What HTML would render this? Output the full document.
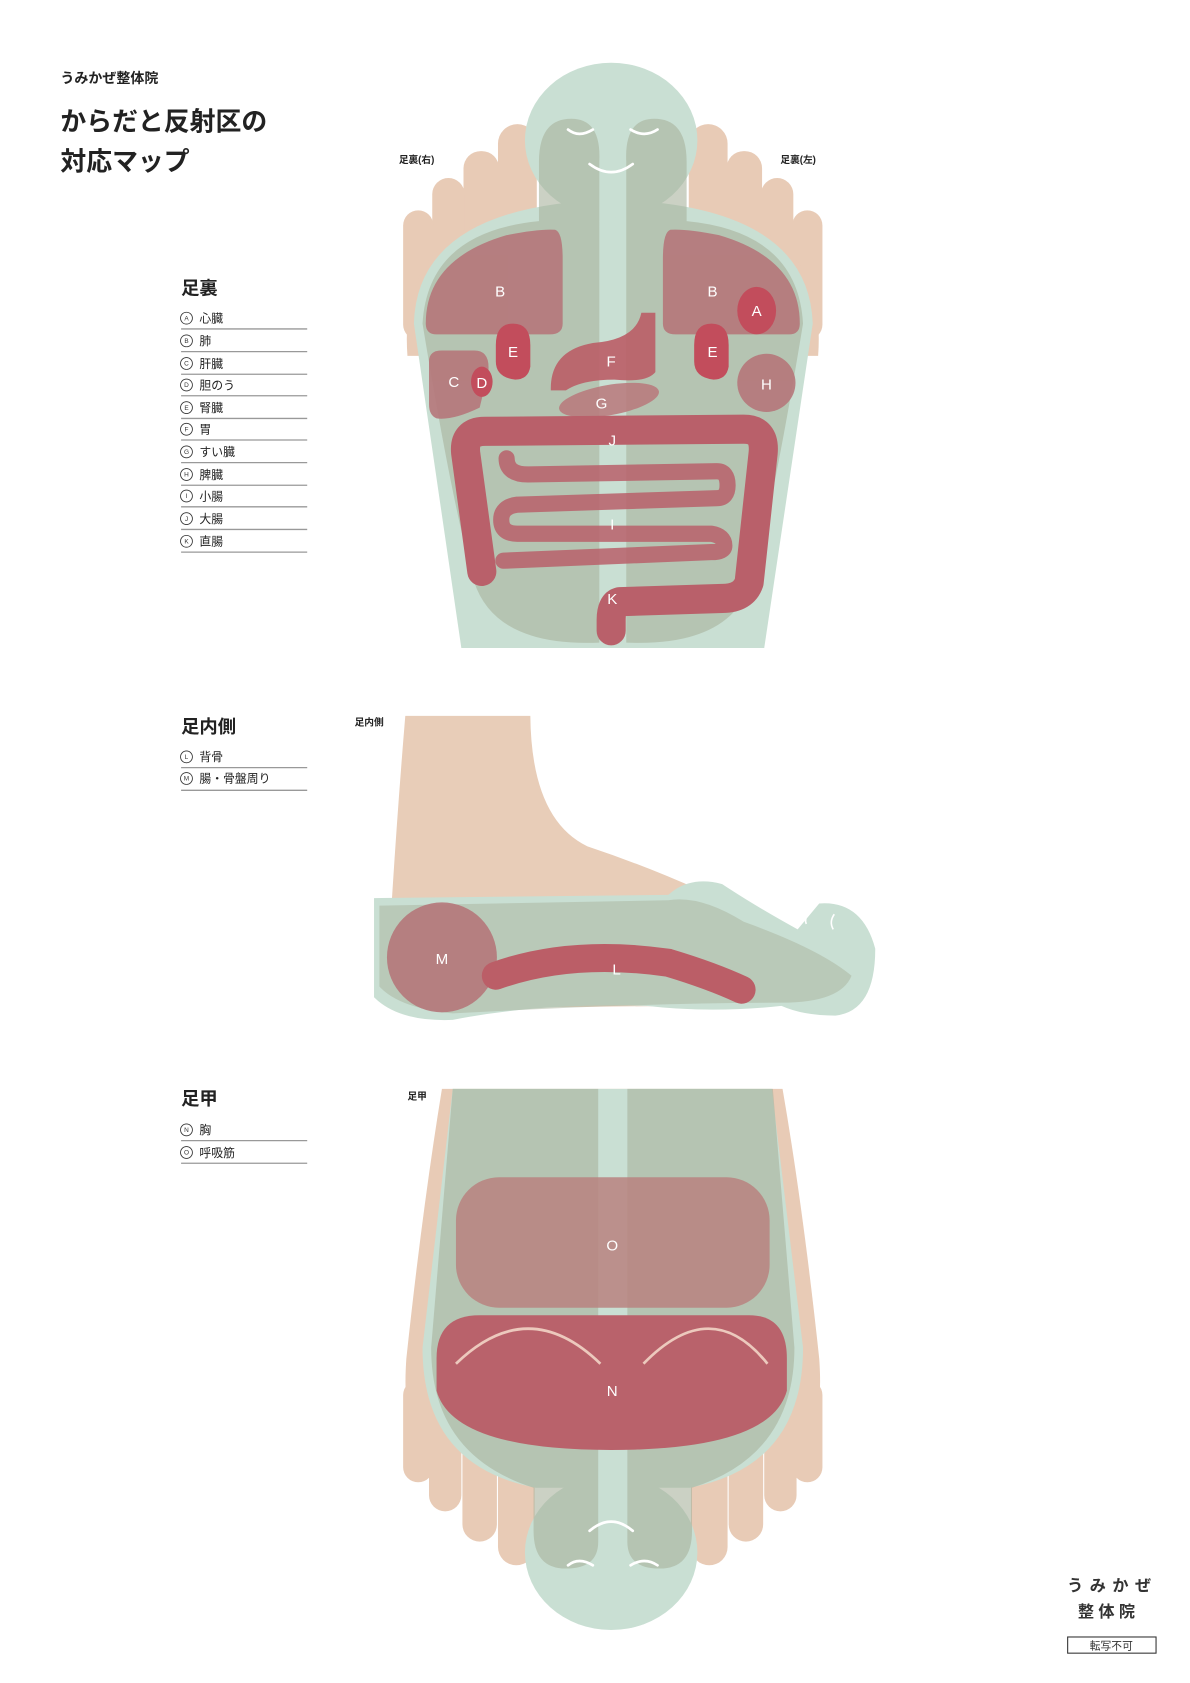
<!DOCTYPE html>
<html><head><meta charset="utf-8"><style>
html,body{margin:0;padding:0;background:#fff;}
svg{display:block;}
text{font-family:"Liberation Sans","Noto Sans CJK JP",sans-serif;}
</style></head><body>
<svg width="1190" height="1683" viewBox="0 0 1104 1561" xmlns="http://www.w3.org/2000/svg">
<rect width="1104" height="1561" fill="#fff"/>
<text x="56" y="77" font-size="13" font-weight="bold" fill="#222">うみかぜ整体院</text>
<text x="56" y="121" font-size="24" font-weight="bold" fill="#222">からだと反射区の</text>
<text x="56" y="158" font-size="24" font-weight="bold" fill="#222">対応マップ</text>

<text x="168" y="273" font-size="17" font-weight="bold" fill="#222">足裏</text>
<g fill="none" stroke="#999" stroke-width="1.2">
<line x1="168" y1="305" x2="285" y2="305"/><line x1="168" y1="326" x2="285" y2="326"/><line x1="168" y1="347" x2="285" y2="347"/><line x1="168" y1="367" x2="285" y2="367"/><line x1="168" y1="388" x2="285" y2="388"/><line x1="168" y1="408" x2="285" y2="408"/><line x1="168" y1="429" x2="285" y2="429"/><line x1="168" y1="450" x2="285" y2="450"/><line x1="168" y1="470" x2="285" y2="470"/><line x1="168" y1="491" x2="285" y2="491"/><line x1="168" y1="512" x2="285" y2="512"/>
<line x1="168" y1="712" x2="285" y2="712"/><line x1="168" y1="733" x2="285" y2="733"/>
<line x1="168" y1="1058" x2="285" y2="1058"/><line x1="168" y1="1079" x2="285" y2="1079"/>
</g>
<g fill="none" stroke="#333" stroke-width="0.8">
<circle cx="173" cy="295" r="5.5"/><circle cx="173" cy="316" r="5.5"/><circle cx="173" cy="337" r="5.5"/><circle cx="173" cy="357" r="5.5"/><circle cx="173" cy="378" r="5.5"/><circle cx="173" cy="398" r="5.5"/><circle cx="173" cy="419" r="5.5"/><circle cx="173" cy="440" r="5.5"/><circle cx="173" cy="460" r="5.5"/><circle cx="173" cy="481" r="5.5"/><circle cx="173" cy="502" r="5.5"/>
<circle cx="173" cy="702" r="5.5"/><circle cx="173" cy="722" r="5.5"/>
<circle cx="173" cy="1048" r="5.5"/><circle cx="173" cy="1069" r="5.5"/>
</g>
<g font-size="6" fill="#333" text-anchor="middle">
<text x="173" y="297">A</text><text x="173" y="318">B</text><text x="173" y="339">C</text><text x="173" y="359">D</text><text x="173" y="380">E</text><text x="173" y="400">F</text><text x="173" y="421">G</text><text x="173" y="442">H</text><text x="173" y="462">I</text><text x="173" y="483">J</text><text x="173" y="504">K</text>
<text x="173" y="704">L</text><text x="173" y="724">M</text>
<text x="173" y="1050">N</text><text x="173" y="1071">O</text>
</g>
<g font-size="11" fill="#222">
<text x="185" y="299">心臓</text><text x="185" y="320">肺</text><text x="185" y="341">肝臓</text><text x="185" y="361">胆のう</text><text x="185" y="382">腎臓</text><text x="185" y="402">胃</text><text x="185" y="423">すい臓</text><text x="185" y="444">脾臓</text><text x="185" y="464">小腸</text><text x="185" y="485">大腸</text><text x="185" y="506">直腸</text>
<text x="168" y="680" font-size="17" font-weight="bold">足内側</text>
<text x="185" y="706">背骨</text><text x="185" y="726">腸・骨盤周り</text>
<text x="168" y="1025" font-size="17" font-weight="bold">足甲</text>
<text x="185" y="1052">胸</text><text x="185" y="1073">呼吸筋</text>
</g>
<g font-size="9" font-weight="bold" fill="#222">
<text x="370" y="151">足裏(右)</text><text x="724" y="151">足裏(左)</text>
<text x="329" y="673">足内側</text><text x="378" y="1020">足甲</text>
</g>

<!-- ===== SOLE ===== -->
<g fill="#e8cbb6">
<rect x="462" y="115" width="36" height="110" rx="18"/><rect x="430" y="140" width="33" height="110" rx="16"/><rect x="401" y="165" width="30" height="110" rx="15"/><rect x="374" y="195" width="28" height="120" rx="14"/>
<rect x="639" y="115" width="36" height="110" rx="18"/><rect x="674" y="140" width="33" height="110" rx="16"/><rect x="706" y="165" width="30" height="110" rx="15"/><rect x="735" y="195" width="28" height="120" rx="14"/>
<path d="M378,330 Q370,220 470,200 L560,200 L560,330 Z"/><path d="M759,330 Q767,220 667,200 L577,200 L577,330 Z"/>
</g>
<path d="M384,300 Q387,190 568,185 Q750,190 754,300 L709,601 L428,601 Z" fill="#c9dfd3"/>
<ellipse cx="567" cy="130" rx="80" ry="72" fill="#c9dfd3"/>
<g fill="#a9b39d" opacity="0.6">
<path d="M392,300 Q397,215 500,205 L500,150 Q500,110 530,110 Q558,110 556,150 L556,596 Q460,600 440,540 Q420,470 392,300 Z"/>
<path d="M745,300 Q740,215 637,205 L637,150 Q637,110 607,110 Q579,110 581,150 L581,596 Q677,600 697,540 Q717,470 745,300 Z"/>
</g>
<g fill="none" stroke="#fff" stroke-width="2.5" stroke-linecap="round">
<path d="M527,120 Q537,128 550,120"/><path d="M585,120 Q598,128 610,120"/><path d="M547,152 Q567,167 587,152"/>
</g>
<g fill="#b5777a" opacity="0.9">
<path d="M395,300 Q395,240 470,218 Q500,212 515,213 Q522,215 522,240 L522,300 Q522,310 510,310 L405,310 Q395,310 395,300 Z"/>
<path d="M742,300 Q742,240 667,218 Q637,212 622,213 Q615,215 615,240 L615,300 Q615,310 627,310 L732,310 Q742,310 742,300 Z"/>
<path d="M398,335 Q398,325 410,325 L440,325 Q455,325 453,345 L445,378 Q420,390 405,388 Q398,385 398,375 Z"/>
<circle cx="711" cy="355" r="27"/>
</g>
<g fill="#c24d5c">
<ellipse cx="702" cy="288" rx="18" ry="22"/>
<ellipse cx="447" cy="354" rx="10" ry="14"/>
<path d="M460,320 Q460,300 476,300 Q492,300 492,320 L492,340 Q490,352 478,352 Q460,350 460,335 Z"/>
<path d="M644,320 Q644,300 660,300 Q676,300 676,320 L676,340 Q674,352 662,352 Q644,350 644,335 Z"/>
</g>
<path d="M595,290 L608,290 L608,345 Q600,355 570,352 Q540,352 525,362 L511,362 Q510,325 550,318 Q590,315 595,290 Z" fill="#bb6068" opacity="0.92"/>
<ellipse cx="565" cy="371" rx="47" ry="14" transform="rotate(-10 565 371)" fill="#b8787a" opacity="0.85"/>
<g fill="none" stroke="#b9606a" stroke-linecap="round" stroke-linejoin="round">
<path d="M447,530 L432,420 Q430,400 450,400 L690,398 Q710,398 708,420 L695,540 Q690,555 670,555 L575,558 Q567,560 567,575 L567,585" stroke-width="27"/>
<path d="M470,425 Q470,440 490,440 L665,437 Q675,437 675,450 Q675,462 665,462 L480,468 Q465,470 465,482 Q465,495 480,495 L660,495 Q672,497 672,506 Q672,512 660,512 L467,520" stroke-width="15" opacity="0.85"/>
</g>
<g fill="#fff" font-size="14" text-anchor="middle">
<text x="464" y="275">B</text><text x="661" y="275">B</text><text x="702" y="293">A</text>
<text x="476" y="331">E</text><text x="661" y="331">E</text><text x="421" y="359">C</text><text x="447" y="360">D</text>
<text x="567" y="340">F</text><text x="711" y="361">H</text><text x="558" y="379">G</text><text x="568" y="413">J</text><text x="568" y="491">I</text><text x="568" y="560">K</text>
</g>

<!-- ===== SIDE ===== -->
<path d="M376,664 L492,664 Q493,760 545,785 Q620,810 690,845 Q770,880 795,905 Q780,930 720,932 L440,935 Q360,925 362,860 Q368,760 376,664 Z" fill="#e8cdb8"/>
<path d="M347,833 L620,830 Q640,812 670,820 Q700,840 740,862 L760,838 Q800,835 812,880 Q812,938 775,942 Q745,942 725,933 Q660,940 600,933 Q500,930 420,946 Q370,948 347,925 Z" fill="#c9dfd3"/>
<path d="M352,840 L620,835 Q650,830 690,855 Q760,880 790,905 Q780,930 725,930 Q600,930 420,940 Q370,935 352,915 Z" fill="#a9b39d" opacity="0.5"/>
<circle cx="410" cy="888" r="51" fill="#b5777a" opacity="0.9"/>
<path d="M460,905 Q530,880 620,893 Q660,905 688,918" fill="none" stroke="#bb5e67" stroke-width="26" stroke-linecap="round"/>
<g fill="none" stroke="#fff" stroke-width="1.5"><path d="M750,848 Q746,852 748,857"/><path d="M774,848 Q769,855 773,862"/></g>
<g fill="#fff" font-size="14" text-anchor="middle"><text x="410" y="894">M</text><text x="572" y="904">L</text></g>

<!-- ===== DORSAL ===== -->
<g fill="#e8cbb6">
<path d="M410,1010 L726,1010 Q745,1120 760,1260 Q765,1330 740,1340 L397,1340 Q372,1330 377,1260 Q392,1120 410,1010 Z"/>
<rect x="374" y="1280" width="28" height="95" rx="14"/><rect x="398" y="1290" width="30" height="112" rx="15"/><rect x="429" y="1300" width="32" height="130" rx="16"/><rect x="462" y="1310" width="34" height="142" rx="17"/>
<rect x="735" y="1280" width="28" height="95" rx="14"/><rect x="709" y="1290" width="30" height="112" rx="15"/><rect x="676" y="1300" width="32" height="130" rx="16"/><rect x="641" y="1310" width="34" height="142" rx="17"/>
</g>
<path d="M420,1010 L716,1010 L745,1250 Q745,1360 640,1380 L497,1380 Q392,1360 392,1250 Z" fill="#c9dfd3"/>
<ellipse cx="567" cy="1440" rx="80" ry="72" fill="#c9dfd3"/>
<g fill="#a9b39d" opacity="0.6">
<path d="M420,1010 L555,1010 L555,1430 Q555,1455 525,1455 Q495,1455 495,1420 L495,1380 Q400,1350 400,1250 Z"/>
<path d="M717,1010 L582,1010 L582,1430 Q582,1455 612,1455 Q642,1455 642,1420 L642,1380 Q737,1350 737,1250 Z"/>
</g>
<rect x="423" y="1092" width="291" height="121" rx="40" fill="#b9837f" opacity="0.85"/>
<path d="M405,1260 Q405,1220 445,1220 L695,1220 Q730,1220 730,1260 L730,1290 Q715,1345 567,1345 Q420,1345 405,1290 Z" fill="#b9626b"/>
<g fill="none" stroke="#ecc9bd" stroke-width="2.5"><path d="M423,1265 Q490,1200 557,1265"/><path d="M597,1265 Q660,1200 712,1265"/></g>
<g fill="none" stroke="#fff" stroke-width="2.5" stroke-linecap="round">
<path d="M547,1420 Q567,1403 587,1420"/><path d="M527,1452 Q537,1444 550,1452"/><path d="M585,1452 Q598,1444 610,1452"/>
</g>
<g fill="#fff" font-size="14" text-anchor="middle"><text x="568" y="1160">O</text><text x="568" y="1295">N</text></g>

<g fill="#333" font-size="15" font-weight="bold"><text x="990" y="1476" letter-spacing="6">うみかぜ</text><text x="1000" y="1500" letter-spacing="4">整体院</text></g>
<rect x="990.5" y="1518.5" width="82" height="15" fill="none" stroke="#333" stroke-width="1"/>
<text x="1031" y="1530" font-size="10" fill="#333" text-anchor="middle">転写不可</text>
</svg>
</body></html>
